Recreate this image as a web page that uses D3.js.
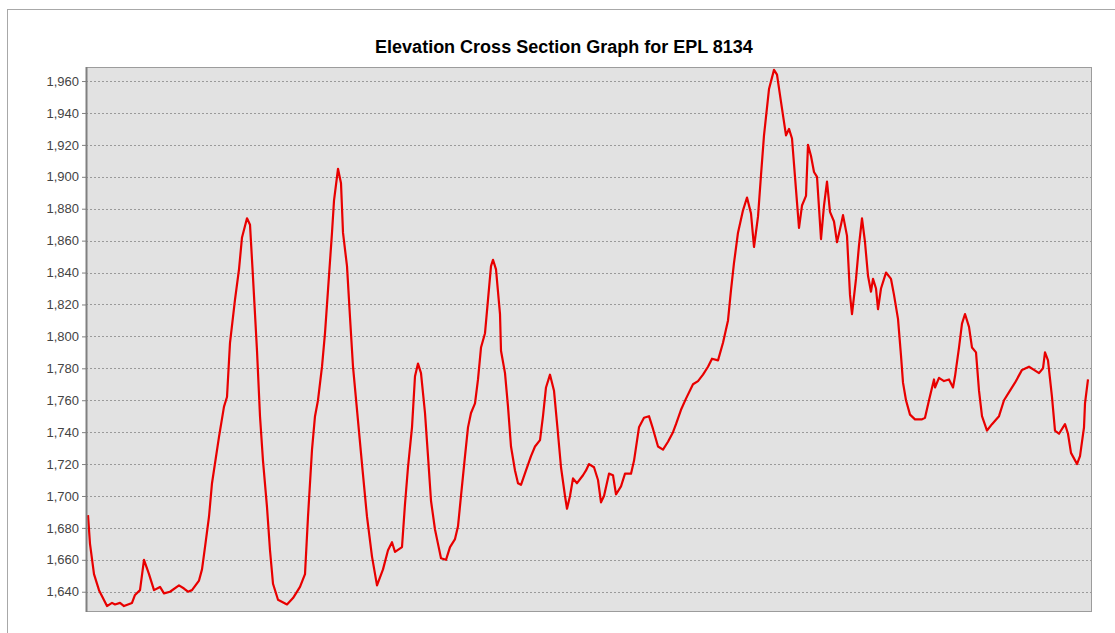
<!DOCTYPE html>
<html>
<head>
<meta charset="utf-8">
<script src="https://cdn.jsdelivr.net/npm/d3@7"></script>
<style>
  body { margin: 0; background: #fff; }
  .tick text { font-family: "Liberation Sans", Arial, sans-serif; font-size: 13px; fill: #444; }
  .title { font-family: "Liberation Sans", Arial, sans-serif; font-size: 18px; font-weight: bold; fill: #000; }
</style>
</head>
<body>
<div id="chart"></div>
<script>
var w = 1115;
var h = 633;

var chartTitle = "Elevation Cross Section Graph for EPL 8134";

// distance along the section (arbitrary units, no x labels shown)
var distance = [
  0, 2, 6, 11, 19, 24, 27, 32, 36, 44, 47, 52, 56, 61, 66, 72, 76, 82, 91, 96,
  100, 104, 111, 114, 117, 121, 124, 131, 136, 139, 142, 147, 151, 154, 159, 162, 165, 169, 172, 175,
  179, 182, 185, 190, 199, 205, 212, 217, 220, 224, 227, 230, 234, 237, 240, 244, 246, 250, 253, 255,
  259, 262, 265, 269, 274, 279, 284, 289, 295, 300, 304, 307, 314, 317, 320, 324, 327, 330, 333, 337,
  340, 343, 347, 350, 353, 358, 362, 367, 370, 373, 377, 380, 383, 387, 390, 393, 397, 400, 403, 405,
  408, 412, 413, 417, 420, 423, 427, 430, 433, 438, 443, 447, 452, 455, 458, 462, 466, 470, 473, 477,
  479, 482, 485, 489, 495, 498, 501, 506, 510, 513, 516, 521, 525, 528, 533, 537, 543, 546, 551, 556,
  561, 565, 570, 575, 580, 585, 588, 593, 598, 605, 610, 615, 620, 624, 630, 635, 640, 643, 646, 650,
  655, 659, 663, 666, 670, 673, 676, 681, 686, 689, 693, 698, 701, 704, 708, 711, 714, 718, 720, 723,
  726, 729, 733, 736, 739, 742, 746, 749, 753, 755, 759, 762, 764, 768, 771, 774, 777, 780, 783, 785,
  788, 790, 793, 798, 803, 806, 810, 813, 815, 818, 822, 827, 834, 837, 841, 846, 847, 851, 856, 861,
  865, 867, 871, 874, 877, 881, 884, 888, 891, 894, 899, 904, 911, 916, 922, 927, 934, 941, 946, 951,
  955, 957, 960, 964, 967, 971, 977, 980, 983, 989, 992, 996, 997, 1000
];

// elevation (m)
var elevation = [
  1688, 1670, 1651, 1641, 1631, 1633, 1632, 1633, 1631, 1633, 1638, 1641, 1660, 1651, 1641, 1643, 1639, 1640, 1644, 1642,
  1640, 1641, 1647, 1654, 1668, 1687, 1708, 1737, 1756, 1762, 1796, 1823, 1842, 1862, 1874, 1870, 1837, 1791, 1750, 1722,
  1693, 1666, 1645, 1635, 1632, 1636, 1643, 1651, 1687, 1729, 1750, 1760, 1781, 1802, 1829, 1865, 1885, 1905, 1896, 1865,
  1844, 1812, 1781, 1754, 1720, 1687, 1662, 1644, 1654, 1666, 1671, 1665, 1668, 1695, 1718, 1743, 1775, 1783, 1777, 1752,
  1725, 1697, 1679, 1670, 1661, 1660, 1668, 1673, 1681, 1700, 1725, 1743, 1752, 1758, 1773, 1793, 1802, 1823, 1844, 1848,
  1842, 1814, 1791, 1777, 1756, 1731, 1716, 1708, 1707, 1716, 1725, 1731, 1735, 1750, 1768, 1776, 1766, 1739, 1718, 1700,
  1692, 1700, 1711, 1708, 1713, 1716, 1720, 1718, 1710, 1696, 1700, 1714, 1713, 1701, 1706, 1714, 1714, 1722, 1743, 1749,
  1750, 1742, 1731, 1729, 1734, 1740, 1745, 1754, 1761, 1770, 1772, 1776, 1781, 1786, 1785, 1796, 1810, 1829, 1846, 1865,
  1879, 1887, 1877, 1856, 1875, 1901, 1926, 1955, 1967, 1964, 1947, 1926, 1930, 1924, 1892, 1868, 1882, 1888, 1920, 1913,
  1903, 1900, 1861, 1882, 1897, 1878, 1872, 1859, 1870, 1876, 1863, 1826, 1814, 1836, 1857, 1874, 1859, 1838, 1828, 1836,
  1830, 1817, 1830, 1840, 1836, 1826, 1811, 1788, 1771, 1760, 1751, 1748, 1748, 1749, 1760, 1773, 1768, 1774, 1772, 1773,
  1768, 1775, 1793, 1808, 1814, 1806, 1793, 1790, 1766, 1750, 1741, 1745, 1750, 1760, 1766, 1771, 1779, 1781, 1779, 1777,
  1780, 1790, 1785, 1762, 1741, 1739, 1745, 1739, 1727, 1720, 1725, 1743, 1758, 1773
];

var yTicks = [1640, 1660, 1680, 1700, 1720, 1740, 1760, 1780, 1800, 1820, 1840, 1860, 1880, 1900, 1920, 1940, 1960];

var dataset = distance.map(function (d, i) { return { dist: d, elev: elevation[i] }; });

var plot = { left: 86, top: 67, right: 1092, bottom: 612 };

var svg = d3.select("#chart").append("svg").attr("width", w).attr("height", h);

// outer frame
svg.append("rect")
    .attr("x", 7.5).attr("y", 9.5)
    .attr("width", w + 20).attr("height", h + 20)
    .attr("fill", "none").attr("stroke", "#a8a8a8");

svg.append("text")
    .attr("class", "title")
    .attr("x", 564)
    .attr("y", 53)
    .attr("text-anchor", "middle")
    .text(chartTitle);

var xScale = d3.scaleLinear()
    .domain([0, 1000])
    .range([plot.left + 2, plot.right - 4]);

var yScale = d3.scaleLinear()
    .domain([1627.3, 1968.8])
    .range([plot.bottom, plot.top]);

// plot background
svg.append("rect")
    .attr("x", plot.left).attr("y", plot.top)
    .attr("width", plot.right - plot.left).attr("height", plot.bottom - plot.top)
    .attr("fill", "#e2e2e2");

// gridlines
svg.append("g")
    .selectAll("line")
    .data(yTicks)
    .enter().append("line")
    .attr("x1", plot.left).attr("x2", plot.right)
    .attr("y1", function (d) { return Math.round(yScale(d)) + 0.5; })
    .attr("y2", function (d) { return Math.round(yScale(d)) + 0.5; })
    .attr("stroke", "#9a9a9a")
    .attr("stroke-dasharray", "2,2");

// elevation line
var line = d3.line()
    .x(function (d) { return xScale(d.dist); })
    .y(function (d) { return yScale(d.elev); });

svg.append("path")
    .datum(dataset)
    .attr("d", line)
    .attr("fill", "none")
    .attr("stroke", "#e80000")
    .attr("stroke-width", 2.2)
    .attr("stroke-linejoin", "round");

// plot border
svg.append("rect")
    .attr("x", plot.left + 0.5).attr("y", plot.top + 0.5)
    .attr("width", plot.right - plot.left - 1).attr("height", plot.bottom - plot.top - 1)
    .attr("fill", "none").attr("stroke", "#9c9c9c");
svg.append("line")
    .attr("x1", plot.left + 0.5).attr("x2", plot.left + 0.5)
    .attr("y1", plot.top).attr("y2", plot.bottom)
    .attr("stroke", "#808080").attr("stroke-width", 2);

// y axis
var yAxis = d3.axisLeft(yScale)
    .tickValues(yTicks)
    .tickSize(4)
    .tickPadding(3)
    .tickFormat(d3.format(","));

var gy = svg.append("g")
    .attr("transform", "translate(" + plot.left + ",0)")
    .call(yAxis);
gy.select(".domain").remove();
gy.selectAll(".tick line").attr("stroke", "#808080");
</script>
</body>
</html>
